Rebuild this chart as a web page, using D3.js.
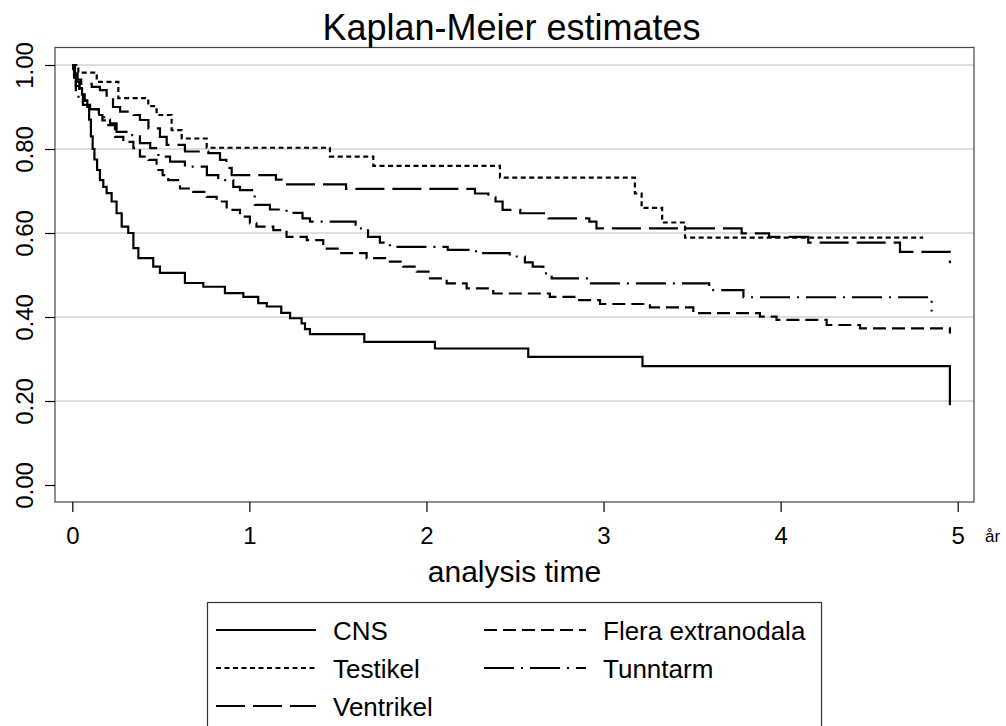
<!DOCTYPE html>
<html>
<head>
<meta charset="utf-8">
<script src="https://cdn.jsdelivr.net/npm/d3@7/dist/d3.min.js"></script>
<style>
  html, body { margin: 0; padding: 0; background: #fff; }
  svg { display: block; }
  text { font-family: "Liberation Sans", Arial, Helvetica, sans-serif; fill: #000; }
</style>
</head>
<body>
<svg id="chart" width="1006" height="726"></svg>
<script>
// ---- data ----
const seriesNames = ["CNS", "Testikel", "Ventrikel", "Flera extranodala", "Tunntarm"];

const cnsTime = [0, 0.005, 0.015, 0.025, 0.04, 0.055, 0.07, 0.085, 0.095, 0.105, 0.115, 0.125, 0.14, 0.156, 0.175, 0.194, 0.222, 0.25, 0.279, 0.316, 0.345, 0.373, 0.457, 0.495, 0.636, 0.74, 0.862, 0.966, 1.05, 1.098, 1.18, 1.23, 1.295, 1.314, 1.342, 1.649, 2.048, 2.575, 3.22, 4.956];
const cnsSurv = [1.0, 0.99, 0.975, 0.96, 0.945, 0.93, 0.915, 0.90, 0.87, 0.83, 0.80, 0.775, 0.75, 0.726, 0.71, 0.695, 0.675, 0.647, 0.615, 0.60, 0.564, 0.54, 0.52, 0.505, 0.481, 0.472, 0.457, 0.448, 0.433, 0.425, 0.41, 0.397, 0.385, 0.371, 0.359, 0.341, 0.325, 0.305, 0.283, 0.19];

const testikelTime = [0, 0.034, 0.138, 0.26, 0.429, 0.476, 0.561, 0.618, 0.759, 1.455, 1.70, 2.415, 3.177, 3.215, 3.331, 3.46, 4.805];
const testikelSurv = [1.0, 0.982, 0.96, 0.921, 0.902, 0.881, 0.845, 0.825, 0.803, 0.782, 0.76, 0.732, 0.694, 0.66, 0.625, 0.589, 0.589];

const ventrikelTime = [0, 0.015, 0.03, 0.05, 0.11, 0.156, 0.194, 0.23, 0.27, 0.345, 0.382, 0.43, 0.495, 0.533, 0.636, 0.768, 0.834, 0.87, 0.9, 1.15, 1.19, 1.546, 2.274, 2.35, 2.39, 2.43, 2.53, 2.69, 2.92, 2.96, 3.78, 3.935, 4.156, 4.674, 4.956];
const ventrikelSurv = [1.0, 0.98, 0.965, 0.955, 0.948, 0.94, 0.921, 0.90, 0.889, 0.881, 0.869, 0.849, 0.829, 0.81, 0.794, 0.79, 0.774, 0.755, 0.738, 0.727, 0.716, 0.705, 0.694, 0.685, 0.675, 0.655, 0.647, 0.635, 0.627, 0.611, 0.599, 0.591, 0.577, 0.555, 0.528];

const fleraTime = [0, 0.01, 0.02, 0.04, 0.06, 0.081, 0.1, 0.138, 0.17, 0.194, 0.241, 0.288, 0.345, 0.382, 0.43, 0.476, 0.51, 0.542, 0.608, 0.683, 0.759, 0.815, 0.872, 0.947, 1.003, 1.04, 1.135, 1.21, 1.324, 1.417, 1.512, 1.662, 1.775, 1.869, 1.945, 2.02, 2.114, 2.227, 2.377, 2.697, 2.848, 2.98, 3.262, 3.507, 3.883, 3.977, 4.26, 4.448, 4.956];
const fleraSurv = [1.0, 0.97, 0.95, 0.93, 0.915, 0.909, 0.895, 0.881, 0.868, 0.857, 0.829, 0.817, 0.802, 0.782, 0.774, 0.75, 0.738, 0.726, 0.706, 0.698, 0.686, 0.675, 0.655, 0.639, 0.623, 0.615, 0.607, 0.591, 0.583, 0.563, 0.552, 0.54, 0.532, 0.52, 0.508, 0.492, 0.48, 0.468, 0.456, 0.448, 0.44, 0.431, 0.423, 0.409, 0.401, 0.393, 0.381, 0.373, 0.361];

const tunntarmTime = [0, 0.01, 0.02, 0.035, 0.06, 0.1, 0.15, 0.18, 0.213, 0.25, 0.326, 0.382, 0.44, 0.486, 0.552, 0.636, 0.76, 0.824, 0.909, 0.947, 1.03, 1.116, 1.21, 1.3, 1.342, 1.6, 1.67, 1.737, 1.794, 2.12, 2.28, 2.47, 2.556, 2.6, 2.66, 2.707, 2.914, 3.597, 3.79, 4.853];
const tunntarmSurv = [1.0, 0.97, 0.94, 0.92, 0.905, 0.895, 0.885, 0.87, 0.861, 0.841, 0.833, 0.814, 0.802, 0.782, 0.77, 0.758, 0.738, 0.726, 0.71, 0.702, 0.667, 0.656, 0.648, 0.635, 0.627, 0.611, 0.591, 0.577, 0.567, 0.56, 0.552, 0.544, 0.53, 0.52, 0.504, 0.492, 0.48, 0.464, 0.447, 0.413];

const xTicks = [0, 1, 2, 3, 4, 5];
const yTicks = [0, 0.2, 0.4, 0.6, 0.8, 1.0];
const gridTicks = [0.2, 0.4, 0.6, 0.8, 1.0];

const titleText = "Kaplan-Meier estimates";
const xTitle = "analysis time";
const xUnit = "år";

// ---- layout ----
const svg = d3.select("#chart");
const frame = { left: 55, right: 974, top: 47.5, bottom: 502 };
const x = d3.scaleLinear().domain([0, 5]).range([72.3, 957.7]);
const y = d3.scaleLinear().domain([0, 1]).range([485, 65]);

// gridlines
svg.append("g").selectAll("line").data(gridTicks).join("line")
  .attr("x1", frame.left).attr("x2", frame.right)
  .attr("y1", d => y(d)).attr("y2", d => y(d))
  .attr("stroke", "#dedede").attr("stroke-width", 2);

// frame
svg.append("rect")
  .attr("x", frame.left).attr("y", frame.top)
  .attr("width", frame.right - frame.left).attr("height", frame.bottom - frame.top)
  .attr("fill", "none").attr("stroke", "#444").attr("stroke-width", 1.2);

// y axis
const yAxis = d3.axisLeft(y).tickValues(yTicks).tickSize(10).tickFormat(d3.format(".2f"));
const gy = svg.append("g").attr("transform", `translate(${frame.left},0)`).call(yAxis);
gy.select(".domain").remove();
gy.selectAll(".tick line").attr("stroke", "#000").attr("stroke-width", 1.2);
gy.selectAll(".tick text").remove();
gy.selectAll(".tick").append("text")
  .attr("transform", "translate(-22,0) rotate(-90)")
  .attr("text-anchor", "middle")
  .attr("font-size", 24)
  .text(d => d3.format(".2f")(d));

// x axis
const xAxis = d3.axisBottom(x).tickValues(xTicks).tickSize(10).tickFormat(d3.format("d"));
const gx = svg.append("g").attr("transform", `translate(0,${frame.bottom})`).call(xAxis);
gx.select(".domain").remove();
gx.selectAll(".tick line").attr("stroke", "#000").attr("stroke-width", 1.2);
gx.selectAll(".tick text").remove();
gx.selectAll(".tick").append("text")
  .attr("y", 42).attr("text-anchor", "middle").attr("font-size", 24)
  .text(d => d);

svg.append("text").attr("x", 985).attr("y", 542).attr("font-size", 17).text(xUnit);

// titles
svg.append("text").attr("x", 511.5).attr("y", 40).attr("text-anchor", "middle")
  .attr("font-size", 36).text(titleText);
svg.append("text").attr("x", 514.5).attr("y", 582).attr("text-anchor", "middle")
  .attr("font-size", 30).text(xTitle);

// series
const series = [
  { name: seriesNames[0], t: cnsTime, s: cnsSurv, dash: null },
  { name: seriesNames[1], t: testikelTime, s: testikelSurv, dash: "5,3.5" },
  { name: seriesNames[2], t: ventrikelTime, s: ventrikelSurv, dash: "29,8" },
  { name: seriesNames[3], t: fleraTime, s: fleraSurv, dash: "13,6" },
  { name: seriesNames[4], t: tunntarmTime, s: tunntarmSurv, dash: "30,7,2,7" }
];

const line = d3.line().x(d => x(d[0])).y(d => y(d[1])).curve(d3.curveStepAfter);

svg.append("g").selectAll("path").data(series).join("path")
  .attr("d", d => line(d.t.map((t, i) => [t, d.s[i]])))
  .attr("fill", "none").attr("stroke", "#000").attr("stroke-width", 2.2)
  .attr("stroke-dasharray", d => d.dash);

// legend
const lg = svg.append("g");
lg.append("rect").attr("x", 207.5).attr("y", 602.5).attr("width", 614).attr("height", 140)
  .attr("fill", "#fff").attr("stroke", "#333").attr("stroke-width", 1.2);

const legendPos = [
  { col: 0, row: 0 }, { col: 0, row: 1 }, { col: 0, row: 2 },
  { col: 1, row: 0 }, { col: 1, row: 1 }
];
const colX = [216, 484];
const colW = [100, 102];
const rowY = [630, 668, 706];

series.forEach((s, i) => {
  const p = legendPos[i];
  const x0 = colX[p.col], yy = rowY[p.row];
  lg.append("line").attr("x1", x0).attr("x2", x0 + colW[p.col])
    .attr("y1", yy).attr("y2", yy)
    .attr("stroke", "#000").attr("stroke-width", 2.2)
    .attr("stroke-dasharray", s.dash);
  lg.append("text").attr("x", x0 + colW[p.col] + 17).attr("y", yy + 10)
    .attr("font-size", 26).text(s.name);
});
</script>
</body>
</html>
